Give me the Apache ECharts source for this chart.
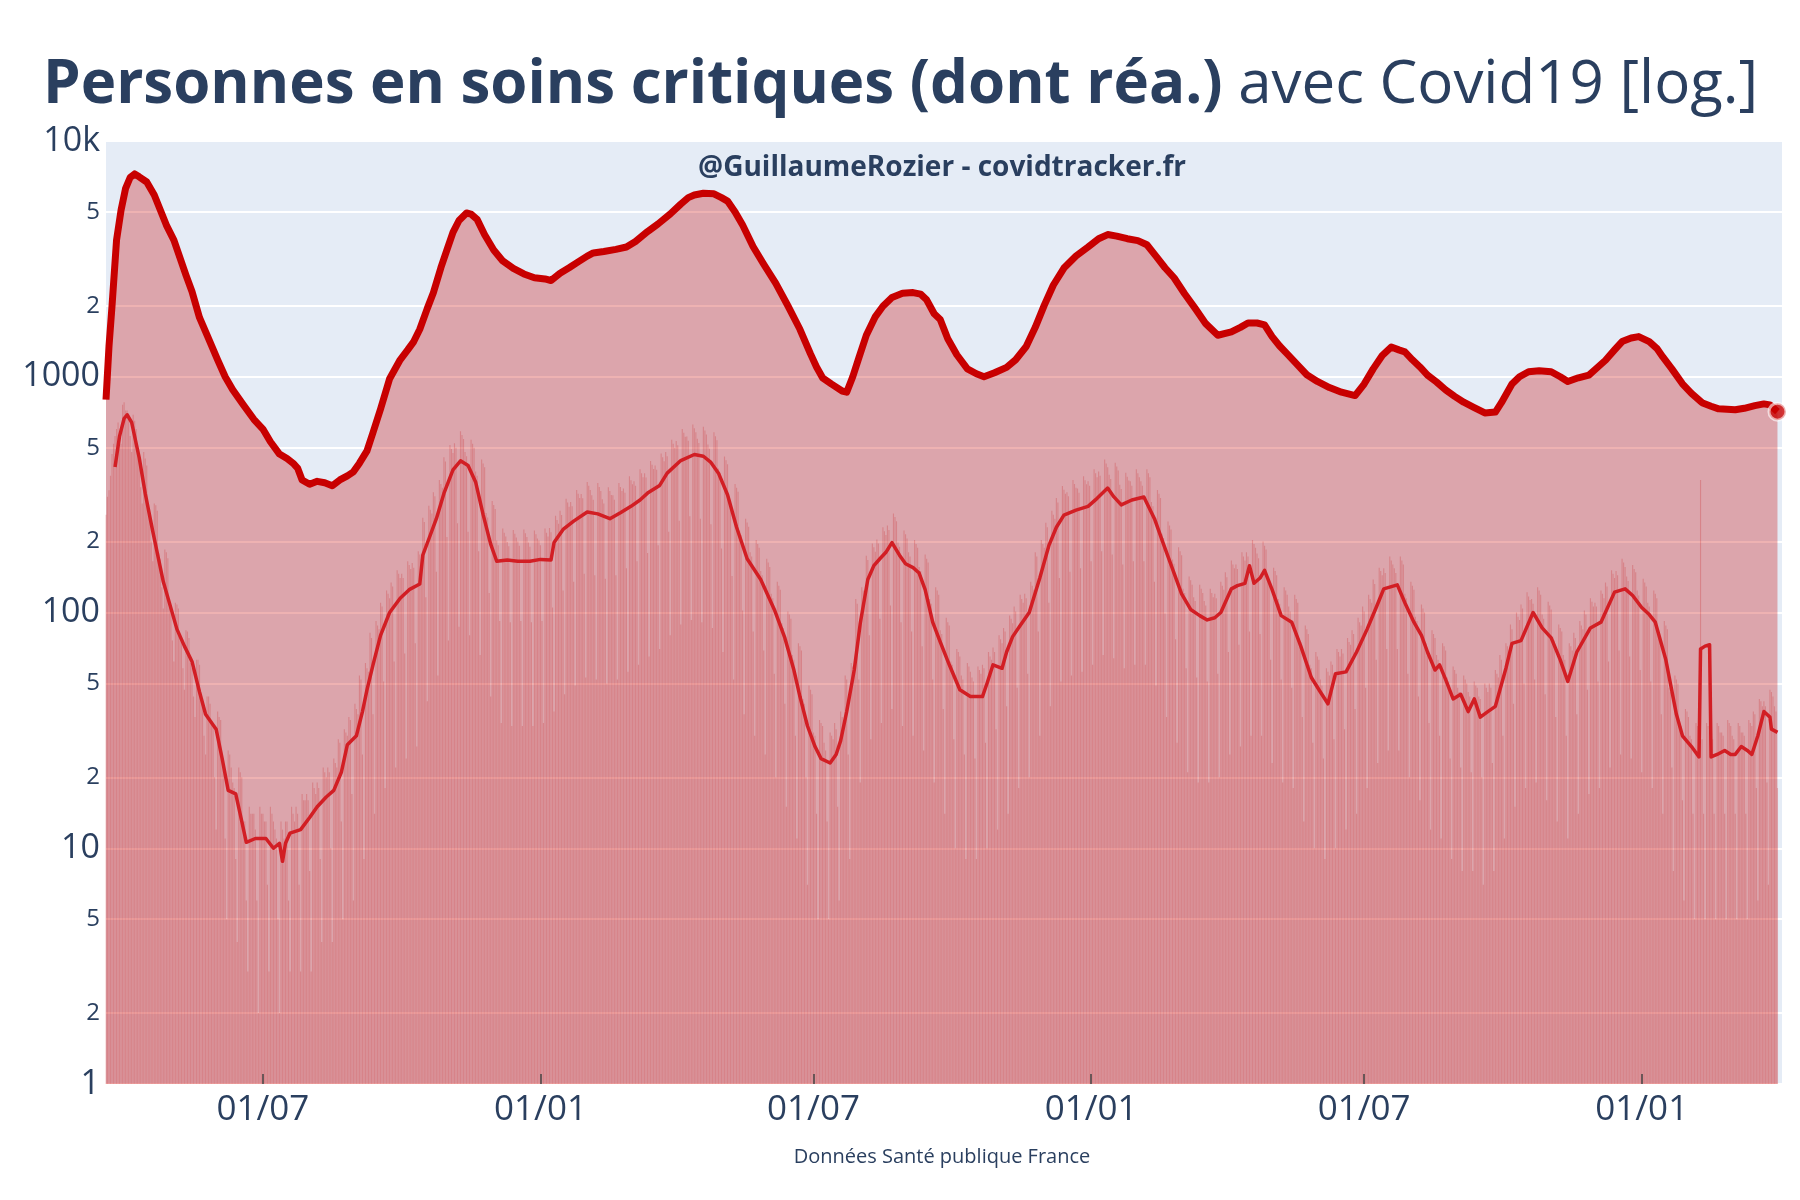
<!DOCTYPE html>
<html><head><meta charset="utf-8">
<script src="https://cdn.jsdelivr.net/npm/echarts@6/dist/echarts.min.js"></script>
<style>html,body{margin:0;padding:0;background:#fff}#c{width:1800px;height:1200px}</style>
</head><body><div id="c"></div>
<script>
// ---- DATA ----
const titleBold = 'Personnes en soins critiques (dont réa.)';
const titleRegular = ' avec Covid19 [log.]';
const watermark = '@GuillaumeRozier - covidtracker.fr';
const sourceText = 'Données Santé publique France';

// daily new ICU (réa) admissions, one value per day starting at barStartDate (rows = weeks Thu..Wed)
const barStartDate = '2020-03-19';
const dailyAdmissions = [
260,310,330,380,470,520,560,
600,640,560,520,760,780,720,
720,690,560,480,690,650,600,
470,450,340,290,480,450,420,
280,265,200,165,290,285,270,
178,168,128,104,185,180,170,
105,100,76,62,110,108,104,
80,75,58,47,84,83,78,
61,58,44,36,63,63,60,
42,40,30,25,44,44,41,
34,33,20,12,38,36,35,
23,22,11,5,26,25,22,
19,18,9,4,22,21,20,
13,13,6,3,15,14,14,
14,12,6,2,15,14,14,
13,13,7,3,15,14,13,
12,11,5,2,13,12,11,
13,13,6,3,15,14,13,
15,14,7,3,17,16,16,
17,16,8,3,19,18,17,
19,18,9,4,22,21,20,
22,21,10,4,24,23,22,
29,28,13,5,32,31,30,
36,35,17,6,41,39,37,
54,52,25,9,61,58,56,
82,78,37,14,92,88,85,
110,106,51,18,124,120,115,
134,129,62,22,151,146,140,
146,140,67,24,165,159,153,
162,155,74,27,182,176,169,
252,242,116,42,284,273,263,
324,311,149,54,365,351,338,
456,437,209,76,513,494,475,
522,500,239,87,587,566,544,
480,460,220,80,540,520,500,
396,380,182,66,446,429,413,
264,253,121,44,297,286,275,
202,193,92,34,227,218,210,
199,191,91,33,224,216,208,
200,192,92,33,225,217,209,
198,190,91,33,223,215,206,
202,193,92,34,227,218,210,
228,219,105,38,257,247,238,
270,259,124,45,304,293,281,
294,282,135,49,331,319,306,
318,305,146,53,358,345,331,
314,301,144,52,354,341,328,
302,290,139,50,340,328,315,
314,301,144,52,354,341,328,
336,322,154,56,378,364,350,
360,345,165,60,405,390,375,
390,374,179,65,439,423,406,
420,403,193,70,473,455,438,
480,460,220,80,540,520,500,
534,512,245,89,601,579,556,
558,535,256,93,628,605,581,
546,523,250,91,614,592,569,
516,495,237,86,581,559,538,
408,391,187,68,459,442,425,
312,299,143,52,351,338,325,
222,213,102,37,250,241,231,
180,173,83,30,203,195,188,
150,144,69,25,169,163,156,
120,115,55,20,135,130,125,
90,86,41,15,101,98,94,
66,63,30,11,74,72,69,
43,41,20,7,49,47,45,
31,30,14,5,35,34,33,
28,26,13,5,31,30,29,
34,32,15,6,38,36,35,
54,52,25,9,61,59,56,
114,109,52,19,128,124,119,
174,167,80,29,196,189,181,
204,196,94,34,230,221,213,
234,224,107,39,263,254,244,
198,190,91,33,223,215,206,
180,173,83,30,203,195,188,
156,150,72,26,176,169,163,
114,109,52,19,128,124,119,
84,81,39,14,95,91,88,
62,60,29,10,70,68,65,
54,52,25,9,61,59,56,
53,51,24,9,59,57,55,
60,58,28,10,68,65,63,
71,68,32,12,80,77,74,
86,83,40,14,97,94,90,
106,101,48,18,119,114,110,
120,115,55,20,135,130,125,
180,173,83,30,203,195,188,
240,230,110,40,270,260,250,
306,293,140,51,344,332,319,
324,311,149,54,365,351,338,
336,322,154,56,378,364,350,
360,345,165,60,405,390,375,
396,380,182,66,446,429,413,
384,368,176,64,432,416,400,
348,334,160,58,392,377,363,
360,345,165,60,405,390,375,
360,345,165,60,405,390,375,
294,282,135,49,331,319,306,
216,207,99,36,243,234,225,
168,161,77,28,189,182,175,
126,121,58,21,142,137,131,
116,112,53,19,131,126,121,
112,107,51,19,126,121,116,
120,115,55,20,135,130,125,
148,141,68,25,166,160,154,
160,153,73,27,180,173,166,
180,173,83,30,203,195,188,
178,170,81,30,200,192,185,
138,132,63,23,155,150,144,
114,109,52,19,128,124,119,
106,101,48,18,119,114,110,
78,75,36,13,88,85,81,
60,58,28,10,68,65,63,
52,49,24,9,58,56,54,
62,60,29,10,70,68,65,
70,67,32,12,78,75,73,
84,81,39,14,95,91,88,
106,101,48,18,119,114,110,
138,132,63,23,155,150,144,
154,147,70,26,173,166,160,
154,147,70,26,173,166,160,
120,115,55,20,135,130,125,
96,92,44,16,108,104,100,
74,71,34,12,84,81,78,
66,63,30,11,74,72,69,
53,51,24,9,59,57,55,
48,46,22,8,54,52,50,
46,44,21,8,51,49,48,
44,43,20,7,50,48,46,
50,48,23,8,57,55,53,
66,63,30,11,74,72,69,
89,85,41,15,100,96,93,
108,104,50,18,122,117,113,
114,109,52,19,128,124,119,
98,94,45,16,111,107,103,
79,76,36,13,89,86,83,
66,63,30,11,74,72,69,
82,78,37,14,92,88,85,
102,98,47,17,115,111,106,
110,106,51,18,124,120,115,
134,129,62,22,151,146,140,
150,144,69,25,169,163,156,
142,136,65,24,159,153,148,
124,118,57,21,139,134,129,
110,106,51,18,124,120,115,
82,78,37,14,92,88,85,
48,46,22,8,54,52,50,
35,33,16,6,39,38,36,
30,29,14,5,34,33,31,
365,29,14,5,34,33,31,
30,29,14,5,34,33,31,
31,30,14,5,35,34,33,
30,29,14,5,34,33,31,
31,30,14,5,35,34,33,
38,37,18,6,43,42,40,
42,40,19,7,47,46,44,
40,38,18
];

// persons in critical care (thick line)
const critDates = ['2020-03-19','2020-03-21','2020-03-23','2020-03-26','2020-03-29','2020-04-01','2020-04-04','2020-04-07','2020-04-10','2020-04-15','2020-04-20','2020-04-24','2020-04-28','2020-05-03','2020-05-07','2020-05-11','2020-05-15','2020-05-20','2020-05-25','2020-06-01','2020-06-06','2020-06-11','2020-06-18','2020-06-25','2020-07-01','2020-07-06','2020-07-12','2020-07-17','2020-07-21','2020-07-24','2020-07-27','2020-08-01','2020-08-06','2020-08-11','2020-08-16','2020-08-21','2020-08-26','2020-08-30','2020-09-03','2020-09-08','2020-09-12','2020-09-17','2020-09-23','2020-09-30','2020-10-05','2020-10-09','2020-10-13','2020-10-18','2020-10-22','2020-10-27','2020-10-31','2020-11-04','2020-11-08','2020-11-13','2020-11-16','2020-11-20','2020-11-25','2020-12-01','2020-12-07','2020-12-14','2020-12-21','2020-12-28','2021-01-04','2021-01-08','2021-01-14','2021-01-20','2021-01-26','2021-02-01','2021-02-05','2021-02-12','2021-02-20','2021-02-27','2021-03-05','2021-03-13','2021-03-20','2021-03-28','2021-04-04','2021-04-09','2021-04-13','2021-04-19','2021-04-26','2021-05-01','2021-05-05','2021-05-10','2021-05-15','2021-05-22','2021-05-29','2021-06-06','2021-06-14','2021-06-22','2021-06-29','2021-07-03','2021-07-07','2021-07-13','2021-07-20','2021-07-23','2021-07-27','2021-07-31','2021-08-05','2021-08-11','2021-08-16','2021-08-22','2021-08-29','2021-09-05','2021-09-10','2021-09-14','2021-09-19','2021-09-23','2021-09-28','2021-10-04','2021-10-11','2021-10-17','2021-10-22','2021-10-29','2021-11-06','2021-11-12','2021-11-19','2021-11-25','2021-12-01','2021-12-07','2021-12-14','2021-12-22','2021-12-30','2022-01-06','2022-01-12','2022-01-18','2022-01-25','2022-02-01','2022-02-07','2022-02-13','2022-02-19','2022-02-25','2022-03-04','2022-03-11','2022-03-18','2022-03-26','2022-04-04','2022-04-10','2022-04-15','2022-04-21','2022-04-26','2022-05-01','2022-05-06','2022-05-11','2022-05-18','2022-05-24','2022-05-31','2022-06-08','2022-06-16','2022-06-25','2022-07-01','2022-07-07','2022-07-13','2022-07-19','2022-07-24','2022-07-28','2022-08-02','2022-08-07','2022-08-12','2022-08-18','2022-08-24','2022-08-30','2022-09-05','2022-09-12','2022-09-19','2022-09-26','2022-09-30','2022-10-07','2022-10-12','2022-10-18','2022-10-25','2022-11-02','2022-11-08','2022-11-13','2022-11-20','2022-11-27','2022-12-03','2022-12-08','2022-12-14','2022-12-19','2022-12-25','2022-12-30','2023-01-06','2023-01-11','2023-01-15','2023-01-21','2023-01-28','2023-02-03','2023-02-10','2023-02-16','2023-02-21','2023-03-04','2023-03-10','2023-03-17','2023-03-23','2023-03-27','2023-04-01'];
const critValues = [800,1350,2000,3800,5100,6300,7000,7250,7050,6700,5900,5100,4400,3800,3200,2700,2300,1780,1500,1180,1000,880,760,660,600,530,470,450,430,410,365,350,360,355,345,365,380,395,430,485,580,730,980,1180,1300,1410,1590,1950,2270,2900,3450,4100,4600,4950,4900,4650,4000,3450,3100,2880,2730,2630,2600,2560,2750,2900,3070,3250,3350,3400,3470,3550,3750,4130,4450,4900,5400,5750,5900,6000,5970,5750,5560,5000,4400,3560,3000,2490,2000,1590,1250,1100,990,930,870,860,1000,1200,1500,1800,1990,2170,2260,2275,2240,2120,1850,1750,1450,1240,1080,1030,1000,1040,1096,1180,1343,1620,2012,2450,2890,3250,3550,3850,4010,3950,3850,3780,3630,3250,2900,2630,2250,1950,1680,1500,1550,1620,1690,1690,1660,1480,1350,1250,1120,1020,955,900,860,832,931,1080,1230,1337,1300,1275,1180,1100,1016,950,880,826,780,740,702,708,776,931,1000,1050,1060,1050,1000,955,990,1016,1100,1175,1300,1410,1460,1480,1410,1320,1214,1080,933,850,776,750,731,724,735,754,767,760,711];

// 7-day average of new ICU admissions (thin line)
const avgDates = ['2020-03-25','2020-03-28','2020-03-31','2020-04-02','2020-04-05','2020-04-10','2020-04-14','2020-04-19','2020-04-26','2020-05-05','2020-05-10','2020-05-15','2020-05-20','2020-05-24','2020-05-31','2020-06-04','2020-06-08','2020-06-13','2020-06-17','2020-06-20','2020-06-26','2020-07-03','2020-07-08','2020-07-12','2020-07-14','2020-07-16','2020-07-19','2020-07-26','2020-08-01','2020-08-06','2020-08-12','2020-08-17','2020-08-22','2020-08-26','2020-09-01','2020-09-05','2020-09-08','2020-09-12','2020-09-17','2020-09-23','2020-09-30','2020-10-06','2020-10-13','2020-10-15','2020-10-19','2020-10-24','2020-10-29','2020-11-04','2020-11-09','2020-11-14','2020-11-19','2020-11-24','2020-11-29','2020-12-03','2020-12-10','2020-12-17','2020-12-25','2021-01-01','2021-01-08','2021-01-10','2021-01-16','2021-01-23','2021-02-01','2021-02-08','2021-02-16','2021-02-23','2021-03-02','2021-03-08','2021-03-13','2021-03-21','2021-03-26','2021-04-04','2021-04-13','2021-04-19','2021-04-24','2021-04-29','2021-05-05','2021-05-11','2021-05-18','2021-05-27','2021-06-05','2021-06-12','2021-06-18','2021-06-22','2021-06-27','2021-07-02','2021-07-06','2021-07-12','2021-07-16','2021-07-19','2021-07-23','2021-07-28','2021-08-01','2021-08-06','2021-08-10','2021-08-14','2021-08-18','2021-08-22','2021-08-27','2021-08-31','2021-09-05','2021-09-09','2021-09-13','2021-09-18','2021-09-23','2021-09-29','2021-10-06','2021-10-13','2021-10-21','2021-10-24','2021-10-28','2021-11-03','2021-11-06','2021-11-10','2021-11-15','2021-11-21','2021-11-28','2021-12-04','2021-12-09','2021-12-14','2021-12-22','2021-12-30','2022-01-05','2022-01-12','2022-01-16','2022-01-21','2022-01-28','2022-02-05','2022-02-12','2022-02-18','2022-02-25','2022-03-02','2022-03-08','2022-03-14','2022-03-19','2022-03-24','2022-03-28','2022-04-04','2022-04-08','2022-04-13','2022-04-16','2022-04-19','2022-04-23','2022-04-26','2022-05-01','2022-05-07','2022-05-14','2022-05-20','2022-05-27','2022-06-02','2022-06-07','2022-06-12','2022-06-19','2022-06-26','2022-07-03','2022-07-09','2022-07-14','2022-07-23','2022-07-28','2022-08-03','2022-08-08','2022-08-12','2022-08-17','2022-08-20','2022-08-24','2022-08-29','2022-09-03','2022-09-08','2022-09-12','2022-09-16','2022-09-21','2022-09-26','2022-10-03','2022-10-07','2022-10-13','2022-10-21','2022-10-27','2022-11-02','2022-11-08','2022-11-13','2022-11-19','2022-11-28','2022-12-05','2022-12-14','2022-12-21','2022-12-26','2023-01-01','2023-01-06','2023-01-10','2023-01-17','2023-01-24','2023-01-28','2023-02-03','2023-02-08','2023-02-09','2023-02-12','2023-02-15','2023-02-16','2023-02-20','2023-02-25','2023-03-01','2023-03-04','2023-03-08','2023-03-12','2023-03-15','2023-03-19','2023-03-23','2023-03-27','2023-03-28','2023-04-01'];
const avgValues = [414,560,665,690,640,454,320,221,135,85,72,62,46,37,32,24,17.6,17,13,10.6,11,11,10,10.5,8.8,10.5,11.6,12,13.5,15,16.5,17.6,21,27.5,30,38,47,60,80,100,115,125,132,175,205,250,320,403,440,420,358,260,195,165,167,165,165,168,167,198,225,244,267,262,250,265,282,300,321,346,390,441,468,460,433,390,316,230,169,138,103,78,57,44,33,27,24,23,25,28.6,38,57,90,138,158,169,180,198,175,161,155,147,125,91,75,60,47,44,44,50,60,58,68,79,88,100,140,192,230,259,272,282,305,337,310,286,300,309,250,195,147,120,103,97,93,95,100,126,130,133,158,133,140,151,125,97,91,72,53,46,41,55,56,68,85,105,126,131,110,91,80,68,57,60,52,43,45,38,43,36,38,40,58,74,76,100,86,78,63,51,68,86,91,122,126,118,105,98,91,63,37,30,27,24.4,70,72,73,24.4,25,26,25,25,27,26,25,30,38,36,32,31];

// axes
const xMin = '2020-03-19';
const xMax = '2023-04-04';
const xTickDates = ['2020-07-01','2021-01-01','2021-07-01','2022-01-01','2022-07-01','2023-01-01'];
const yTickValues = [1,2,5,10,20,50,100,200,500,1000,2000,5000,10000];
const yTickLabels = ['1','2','5','10','2','5','100','2','5','1000','2','5','10k'];

// ---- BUILD ----
function ts(s){ const p = s.split('-').map(Number); return new Date(p[0], p[1]-1, p[2]).getTime(); }
function dayTs(start, i){ const p = start.split('-').map(Number); return new Date(p[0], p[1]-1, p[2] + i).getTime(); }
const barData = dailyAdmissions.map((v,i)=>[dayTs(barStartDate,i), v]);
const critData = critDates.map((d,i)=>[ts(d), critValues[i]]);
const avgData = avgDates.map((d,i)=>[ts(d), avgValues[i]]);
const lastCrit = critData[critData.length-1];
const pad = n => (n<10?'0':'')+n;
const FONT = 'Open Sans';
const INK = '#2a3f5f';
const xTickTs = xTickDates.map(ts);

const chart = echarts.init(document.getElementById('c'), null, {renderer:'canvas'});
chart.setOption({
  animation:false,
  backgroundColor:'#ffffff',
  title:[
    {text:'{b|'+titleBold+'}{r|'+titleRegular+'}', left:38, top:51,
     textStyle:{rich:{
       b:{fontFamily:FONT,fontWeight:'bold',fontSize:60,color:INK},
       r:{fontFamily:FONT,fontWeight:'normal',fontSize:60,color:INK}}}},
    {text:watermark, left:937, top:149, textAlign:'center',
     textStyle:{fontFamily:FONT,fontWeight:'bold',fontSize:28,color:INK}},
    {text:sourceText, left:937, top:1142, textAlign:'center',
     textStyle:{fontFamily:FONT,fontWeight:'normal',fontSize:20,color:INK}}
  ],
  grid:{left:106,right:18,top:141,bottom:116,containLabel:false,outerBoundsMode:'none',
        show:true,backgroundColor:'#E5ECF6',borderWidth:0},
  xAxis:{type:'value',min:ts(xMin),max:ts(xMax),z:10,scale:true,
    axisLine:{show:false},splitLine:{show:false},
    axisTick:{show:true,inside:true,length:10,lineStyle:{color:'#444',width:1.5},customValues:xTickTs},
    axisLabel:{customValues:xTickTs,fontFamily:FONT,fontSize:35,color:INK,margin:9,
      formatter:v=>{const d=new Date(v);return pad(d.getDate())+'/'+pad(d.getMonth()+1);}}},
  yAxis:{type:'log',logBase:10,min:1,max:10000,
    axisLine:{show:false},
    axisTick:{show:false,customValues:yTickValues},
    splitLine:{show:true,lineStyle:{color:'#ffffff',width:2}},
    axisLabel:{customValues:yTickValues,margin:6,
      formatter:v=>{let bi=0,bd=1e9;yTickValues.forEach((t,i)=>{const dd=Math.abs(Math.log10(t)-Math.log10(v));if(dd<bd){bd=dd;bi=i;}});
        const big=[0,3,6,9,12].indexOf(bi)>=0;return big?'{big|'+yTickLabels[bi]+'}':'{small|'+yTickLabels[bi]+'}';},
      rich:{big:{fontFamily:FONT,fontSize:34,color:INK},small:{fontFamily:FONT,fontSize:24,color:INK}}}},
  series:[
    {type:'bar',data:barData,barCategoryGap:'25%',z:2,
     itemStyle:{color:'rgba(200,0,0,0.2)'}},
    {type:'line',data:critData,showSymbol:false,z:4,smooth:false,
     lineStyle:{color:'#c80000',width:7,join:'round'},
     areaStyle:{color:'rgba(200,0,0,0.3)',opacity:1}},
    {type:'line',data:avgData,showSymbol:false,z:5,
     lineStyle:{color:'rgb(210,30,36)',width:3.5,join:'round'}},
    {type:'scatter',data:[lastCrit],symbolSize:17,z:6,
     itemStyle:{color:'#c80000',borderColor:'rgba(255,255,255,0.75)',borderWidth:3}}
  ]
});
</script></body></html>
